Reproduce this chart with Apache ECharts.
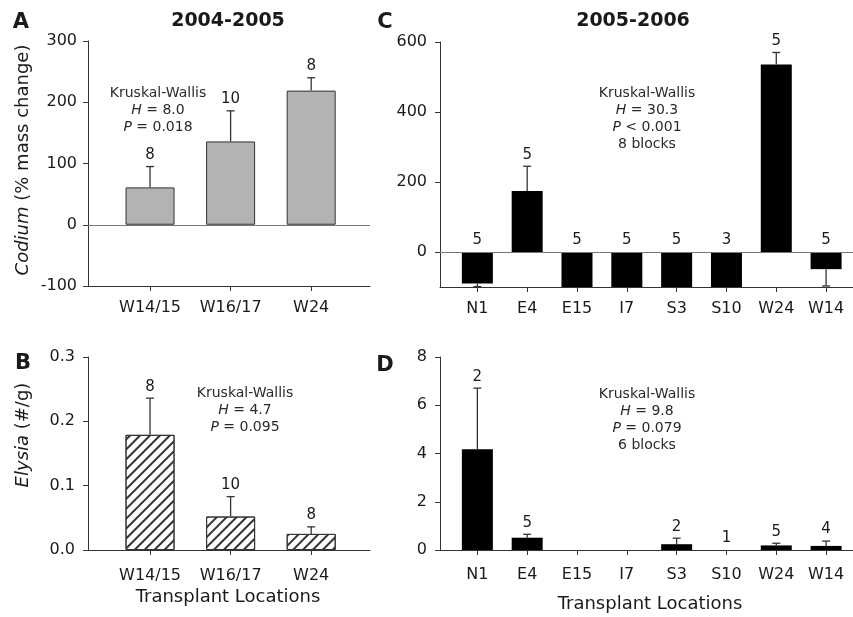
<!DOCTYPE html>
<html>
<head>
<meta charset="utf-8">
<script src="https://cdn.jsdelivr.net/npm/echarts@6/dist/echarts.min.js"></script>
<style>
html, body { margin: 0; padding: 0; background: #fff; }
#chart { width: 853px; height: 617px; }
</style>
</head>
<body>
<div id="chart"></div>
<script>
// 2004-2005 transplants
const sitesA = ['W14/15', 'W16/17', 'W24']
const codiumMean = [61, 136, 219]
const codiumErr = [95, 186, 240]
const codiumN = [8, 10, 8]
const elysiaMean = [0.179, 0.052, 0.025]
const elysiaErr = [0.236, 0.083, 0.036]
const elysiaN = [8, 10, 8]

// 2005-2006 transplants
const sitesC = ['N1', 'E4', 'E15', 'I7', 'S3', 'S10', 'W24', 'W14']
const codiumMean2 = [-90, 174, -100, -100, -100, -100, 536, -49]
const codiumErr2 = [-99, 245, -100, -100, -100, -100, 570, -97]
const codiumN2 = [5, 5, 5, 5, 5, 3, 5, 5]
const elysiaMean2 = [4.18, 0.51, null, null, 0.24, 0, 0.19, 0.17]
const elysiaErr2 = [6.71, 0.65, null, null, 0.49, 0, 0.28, 0.37]
const elysiaN2 = [2, 5, null, null, 2, 1, 5, 4]

const FONT = 'DejaVu Sans'
const INK = '#1a1a1a'

function barData (mean) {
  return mean.map((v, i) => v == null ? null : [i + 1, v]).filter(d => d)
}
function errData (mean, err, n) {
  return mean.map((v, i) => v == null ? null : [i + 1, v, err[i], n[i]]).filter(d => d)
}

// one-sided error bar with cap, plus the sample size above it
function renderErr (params, api) {
  const x = api.value(0)
  const v = api.value(1)
  const e = api.value(2)
  const base = api.coord([x, v])
  const tip = api.coord([x, e])
  const top = api.coord([x, Math.max(v, e, 0)])
  const line = { stroke: '#333', lineWidth: 1.3 }
  const children = []
  if (e !== v) {
    children.push({ type: 'line', shape: { x1: base[0], y1: base[1], x2: tip[0], y2: tip[1] }, style: line })
    children.push({ type: 'line', shape: { x1: tip[0] - 4, y1: tip[1], x2: tip[0] + 4, y2: tip[1] }, style: line })
  }
  children.push({
    type: 'text',
    x: top[0],
    y: top[1] - 4,
    style: {
      text: String(api.value(3)),
      textAlign: 'center', align: 'center',
      textVerticalAlign: 'bottom', verticalAlign: 'bottom',
      font: '15px "' + FONT + '"',
      fill: INK
    }
  })
  return { type: 'group', children }
}

function xAxis (gridIndex, names, min, max, margin) {
  const vals = names.map((_, i) => i + 1)
  return {
    type: 'value',
    gridIndex,
    min,
    max,
    axisLine: { onZero: false, lineStyle: { color: '#333', width: 1 } },
    splitLine: { show: false },
    axisTick: { customValues: vals, length: 5, lineStyle: { color: '#333' } },
    axisLabel: {
      customValues: vals,
      formatter: v => names[Math.round(v) - 1],
      margin,
      fontSize: 16,
      fontFamily: FONT,
      color: INK
    }
  }
}

function yAxis (gridIndex, opts) {
  return Object.assign({
    type: 'value',
    gridIndex,
    axisLine: { show: true, lineStyle: { color: '#333', width: 1 } },
    axisTick: { show: true, length: 5, lineStyle: { color: '#333' } },
    splitLine: { show: false },
    axisLabel: { fontSize: 16, fontFamily: FONT, color: INK, margin: 11 }
  }, opts)
}

const zeroLine = {
  silent: true,
  symbol: 'none',
  label: { show: false },
  lineStyle: { color: '#777', width: 1, type: 'solid' },
  data: [{ yAxis: 0 }]
}

function kwTitle (lines, left, top) {
  return {
    text: lines.join('\n'),
    left,
    top,
    padding: 0,
    textAlign: 'center',
    textStyle: {
      fontSize: 14,
      fontFamily: FONT,
      fontWeight: 'normal',
      color: '#2a2a2a',
      lineHeight: 17,
      rich: {
        i: { fontStyle: 'italic', fontSize: 14, fontFamily: FONT, color: '#2a2a2a', lineHeight: 17 }
      }
    }
  }
}

function plainTitle (text, left, top, size, bold) {
  return {
    text,
    left,
    top,
    padding: 0,
    textAlign: 'center',
    textStyle: { fontSize: size, fontFamily: FONT, fontWeight: bold ? 'bold' : 'normal', color: INK }
  }
}

const chart = echarts.init(document.getElementById('chart'))

chart.setOption({
  animation: false,
  backgroundColor: '#fff',
  title: [
    plainTitle('2004-2005', 228, 12, 19, true),
    plainTitle('2005-2006', 633, 12, 19, true),
    plainTitle('A', 21, 12, 21, true),
    plainTitle('B', 23, 353, 21, true),
    plainTitle('C', 385, 12, 21, true),
    plainTitle('D', 385, 355, 21, true),
    plainTitle('Transplant Locations', 228, 588, 18, false),
    plainTitle('Transplant Locations', 650, 595, 18, false),
    kwTitle(['Kruskal-Wallis', '{i|H} = 8.0', '{i|P} = 0.018'], 158, 85),
    kwTitle(['Kruskal-Wallis', '{i|H} = 4.7', '{i|P} = 0.095'], 245, 385),
    kwTitle(['Kruskal-Wallis', '{i|H} = 30.3', '{i|P} < 0.001', '8 blocks'], 647, 85),
    kwTitle(['Kruskal-Wallis', '{i|H} = 9.8', '{i|P} = 0.079', '6 blocks'], 647, 386)
  ],
  graphic: [
    {
      type: 'text',
      x: 23,
      y: 160,
      rotation: Math.PI / 2,
      style: {
        text: '{i|Codium} (% mass change)',
        rich: { i: { fontStyle: 'italic', fontSize: 18, fontFamily: FONT, fill: INK } },
        font: '18px "' + FONT + '"',
        textAlign: 'center', align: 'center',
        textVerticalAlign: 'middle', verticalAlign: 'middle',
        fill: INK
      }
    },
    {
      type: 'text',
      x: 23,
      y: 435,
      rotation: Math.PI / 2,
      style: {
        text: '{i|Elysia} (#/g)',
        rich: { i: { fontStyle: 'italic', fontSize: 18, fontFamily: FONT, fill: INK } },
        font: '18px "' + FONT + '"',
        textAlign: 'center', align: 'center',
        textVerticalAlign: 'middle', verticalAlign: 'middle',
        fill: INK
      }
    }
  ],
  grid: [
    { left: 88, top: 41, width: 282, height: 245 },
    { left: 88, top: 357, width: 282, height: 193 },
    { left: 440, top: 42, width: 413, height: 245 },
    { left: 440, top: 357, width: 413, height: 193 }
  ],
  xAxis: [
    xAxis(0, sitesA, 0.23, 3.73, 14),
    xAxis(1, sitesA, 0.23, 3.73, 18),
    xAxis(2, sitesC, 0.25, 8.54, 14),
    xAxis(3, sitesC, 0.25, 8.54, 17)
  ],
  yAxis: [
    yAxis(0, { min: -100, max: 300, interval: 100 }),
    yAxis(1, {
      min: 0, max: 0.3, interval: 0.1,
      axisLabel: { fontSize: 16, fontFamily: FONT, color: INK, margin: 13, formatter: v => v.toFixed(1) }
    }),
    yAxis(2, {
      min: -100, max: 600,
      axisTick: { show: true, length: 5, customValues: [0, 200, 400, 600], lineStyle: { color: '#333' } },
      axisLabel: { fontSize: 16, fontFamily: FONT, color: INK, margin: 13, customValues: [0, 200, 400, 600] }
    }),
    yAxis(3, {
      min: 0, max: 8, interval: 2,
      axisLabel: { fontSize: 16, fontFamily: FONT, color: INK, margin: 13 }
    })
  ],
  series: [
    {
      type: 'bar', xAxisIndex: 0, yAxisIndex: 0, barWidth: 49,
      data: barData(codiumMean),
      itemStyle: { color: '#b3b3b3', borderColor: '#333', borderWidth: 1 },
      markLine: zeroLine
    },
    { type: 'custom', xAxisIndex: 0, yAxisIndex: 0, renderItem: renderErr, data: errData(codiumMean, codiumErr, codiumN), z: 3 },
    {
      type: 'bar', xAxisIndex: 1, yAxisIndex: 1, barWidth: 49,
      data: barData(elysiaMean),
      itemStyle: {
        color: '#fff', borderColor: '#333', borderWidth: 1,
        decal: { symbol: 'rect', symbolSize: 1, color: '#333', dashArrayX: [1, 0], dashArrayY: [1.3, 4.5], rotation: -Math.PI / 4 }
      }
    },
    { type: 'custom', xAxisIndex: 1, yAxisIndex: 1, renderItem: renderErr, data: errData(elysiaMean, elysiaErr, elysiaN), z: 3 },
    {
      type: 'bar', xAxisIndex: 2, yAxisIndex: 2, barWidth: 31,
      data: barData(codiumMean2),
      itemStyle: { color: '#000' },
      markLine: zeroLine
    },
    { type: 'custom', xAxisIndex: 2, yAxisIndex: 2, renderItem: renderErr, data: errData(codiumMean2, codiumErr2, codiumN2), z: 3 },
    {
      type: 'bar', xAxisIndex: 3, yAxisIndex: 3, barWidth: 31,
      data: barData(elysiaMean2),
      itemStyle: { color: '#000' }
    },
    { type: 'custom', xAxisIndex: 3, yAxisIndex: 3, renderItem: renderErr, data: errData(elysiaMean2, elysiaErr2, elysiaN2), z: 3 }
  ]
})
</script>
</body>
</html>
